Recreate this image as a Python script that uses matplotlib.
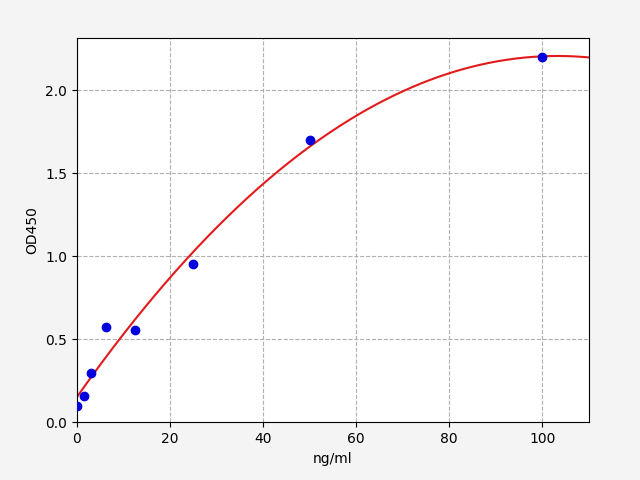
import numpy as np
import matplotlib
matplotlib.use("Agg")
import matplotlib.pyplot as plt

conc = [0, 1.56, 3.125, 6.25, 12.5, 25, 50, 100]
od450 = [0.10, 0.16, 0.30, 0.575, 0.555, 0.955, 1.70, 2.20]

# standard curve: quadratic least-squares fit of the points
coef = np.polyfit(conc, od450, 2)
xs = np.linspace(0, 110, 300)

fig = plt.figure(figsize=(6.4, 4.8), dpi=100, facecolor="#f4f4f4")
ax = fig.add_axes([0.12, 0.12, 0.8, 0.8])
ax.plot(xs, np.polyval(coef, xs), color="#e31a1c", linewidth=1.5)
ax.scatter(conc, od450, color="#0000dd", s=36, zorder=3)
ax.set_xlim(0, 110)
ax.set_ylim(0, 2.313)
ax.set_xticks([0, 20, 40, 60, 80, 100])
ax.set_yticks([0.0, 0.5, 1.0, 1.5, 2.0])
ax.grid(True, linestyle="--", color="#b0b0b0")
ax.set_xlabel("ng/ml")
ax.set_ylabel("OD450")
fig.savefig("out.png", dpi=100, facecolor=fig.get_facecolor())
